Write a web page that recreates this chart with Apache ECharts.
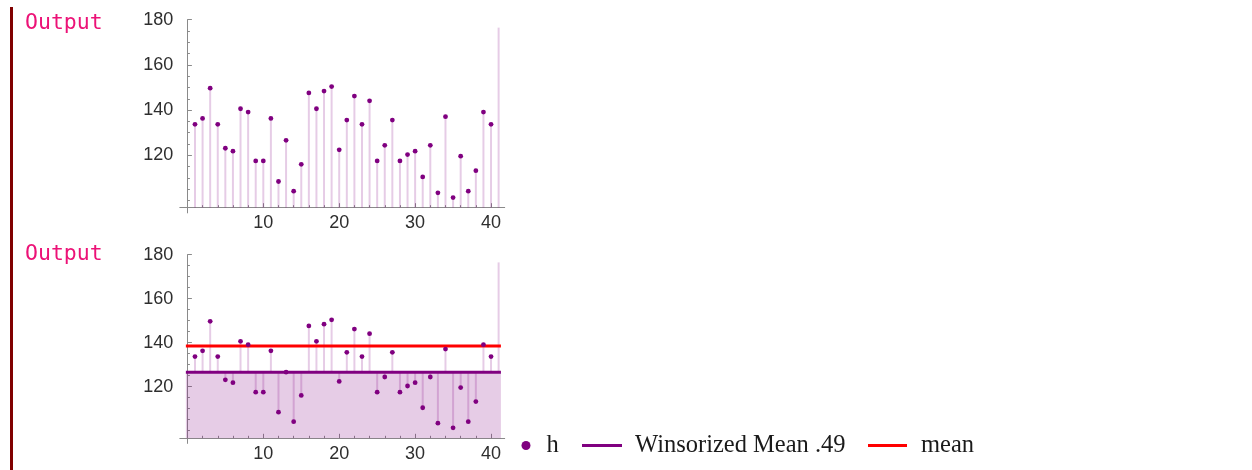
<!DOCTYPE html>
<html>
<head>
<meta charset="utf-8">
<script src="https://cdn.jsdelivr.net/npm/echarts@6/dist/echarts.min.js"></script>
<style>
html,body{margin:0;padding:0;background:#ffffff;}
#chart{width:1252px;height:470px;}
</style>
</head>
<body>
<div id="chart"></div>
<script>
// ---------------- data ----------------
const xs = [1,2,3,4,5,6,7,8,9,10,11,12,13,14,15,16,17,18,19,20,21,22,23,24,25,26,27,28,29,30,31,32,33,34,35,36,37,38,39,40,41];
const h = [133.7,136.3,149.7,133.7,123.1,121.8,140.6,139.1,117.5,117.5,
           136.3,108.4,126.6,104.1,116.0,147.6,140.6,148.4,150.4,122.4,
           135.6,146.2,133.7,144.1,117.5,124.4,135.6,117.5,120.3,121.8,
           110.4,124.4,103.4,137.1,101.3,119.6,104.1,113.2,139.1,133.7,
           580];
const winsorizedMean = 126.6;
const meanValue = 138.5;
const refLineX = [-0.2, 41.3];
const yLabelTicks = [120,140,160,180];
const yMinorTicks = [100,105,110,115,125,130,135,145,150,155,165,170,175];
const xLabelTicks = [10,20,30,40];
const xMinorTicks = [2,4,6,8,12,14,16,18,22,24,26,28,32,34,36,38];
const outputLabel = 'Output';
const seriesNames = ['h','Winsorized Mean .49','mean'];

// ---------------- styling / layout ----------------
const purple = '#800080';
const stemColor = 'rgba(128,0,128,0.2)';
const fillColor = 'rgba(128,0,128,0.2)';
const axisColor = '#8a8a8a';
const labelColor = '#2e2e2e';
const tickFont = {fontFamily:'Liberation Sans', fontSize:18, color:labelColor};
const xMin = -1, xMax = 41.8, yMax = 180, clipTop = 176.5;

const plots = [
  {grid:{left:179.8, top:19.7, width:324.9, height:193.2}, yMin:94.5, base:96.8, xOffset:-5.2},
  {grid:{left:179.8, top:254.7, width:324.9, height:188.7}, yMin:94.2, base:96.5, xOffset:-5.1}
];

function makeXAxes(gi, p) {
  const common = {gridIndex:gi, type:'value', min:xMin, max:xMax, position:'bottom', offset:p.xOffset, splitLine:{show:false}};
  return [
    Object.assign({}, common, {
      axisLine:{onZero:false, lineStyle:{color:axisColor, width:1}},
      axisTick:{inside:true, length:4.5, customValues:xLabelTicks, lineStyle:{color:axisColor}},
      axisLabel:Object.assign({customValues:xLabelTicks, margin:6.5}, tickFont)
    }),
    Object.assign({}, common, {
      axisLine:{show:false, onZero:false},
      axisTick:{inside:true, length:2.5, customValues:xMinorTicks, lineStyle:{color:axisColor}},
      axisLabel:{show:false}
    })
  ];
}
function makeYAxes(gi, p) {
  const common = {gridIndex:gi, type:'value', min:p.yMin, max:yMax, position:'left', splitLine:{show:false}};
  return [
    Object.assign({}, common, {
      axisLine:{onZero:true, lineStyle:{color:axisColor, width:1}},
      axisTick:{inside:true, length:4.5, customValues:yLabelTicks, lineStyle:{color:axisColor}},
      axisLabel:Object.assign({customValues:yLabelTicks, margin:6.5}, tickFont)
    }),
    Object.assign({}, common, {
      axisLine:{show:false, onZero:true},
      axisTick:{inside:true, length:2.5, customValues:yMinorTicks, lineStyle:{color:axisColor}},
      axisLabel:{show:false}
    })
  ];
}

const points = xs.map((x,i)=>[x, h[i]]);

function stemSeries(gi, base) {
  return {
    type:'custom', name:'stems'+gi, xAxisIndex:gi*2, yAxisIndex:gi*2,
    data:points, encode:{x:0, y:1}, silent:true,
    renderItem:function(params, api){
      const x = api.value(0);
      const v = Math.min(api.value(1), clipTop);
      const p0 = api.coord([x, base]);
      const p1 = api.coord([x, v]);
      return {type:'line', shape:{x1:p0[0], y1:p0[1], x2:p1[0], y2:p1[1]},
              style:{stroke:stemColor, lineWidth:2}};
    }
  };
}
function dotSeries(gi) {
  return {type:'scatter', name:seriesNames[0], xAxisIndex:gi*2, yAxisIndex:gi*2,
          data:points, symbol:'circle', symbolSize:4.8, clip:true,
          itemStyle:{color:purple, opacity:1}, z:5};
}

const series = [
  stemSeries(0, plots[0].base),
  dotSeries(0),
  {
    type:'line', name:seriesNames[1], xAxisIndex:2, yAxisIndex:2,
    data:refLineX.map(x=>[x, winsorizedMean]), showSymbol:false, symbol:'none',
    color:purple, itemStyle:{color:purple},
    lineStyle:{color:purple, width:3},
    areaStyle:{color:fillColor, opacity:1, origin:plots[1].base}, z:2
  },
  stemSeries(1, winsorizedMean),
  {
    type:'line', name:seriesNames[2], xAxisIndex:2, yAxisIndex:2,
    data:refLineX.map(x=>[x, meanValue]), showSymbol:false, symbol:'none',
    color:'#ff0000', itemStyle:{color:'#ff0000'},
    lineStyle:{color:'#ff0000', width:3}, z:3
  },
  dotSeries(1)
];

const legendText = {fontFamily:'Liberation Serif', fontSize:24.5, color:'#1a1a1a', lineHeight:27};
const option = {
  animation:false,
  backgroundColor:'#ffffff',
  grid:plots.map(p=>p.grid),
  xAxis:makeXAxes(0, plots[0]).concat(makeXAxes(1, plots[1])),
  yAxis:makeYAxes(0, plots[0]).concat(makeYAxes(1, plots[1])),
  legend:[
    {data:[{name:seriesNames[0], icon:'circle', itemStyle:{color:purple, opacity:1}}], left:521.5, top:432, padding:0, itemWidth:9, itemHeight:9,
     selectedMode:false, textStyle:Object.assign({padding:[0,0,0,11]}, legendText)},
    {data:[{name:seriesNames[1], icon:'rect'}], left:582, top:432, padding:0, itemWidth:40, itemHeight:3,
     selectedMode:false, textStyle:Object.assign({padding:[0,0,0,8]}, legendText)},
    {data:[{name:seriesNames[2], icon:'rect'}], left:868, top:432, padding:0, itemWidth:39, itemHeight:3,
     selectedMode:false, textStyle:Object.assign({padding:[0,0,0,9]}, legendText)}
  ],
  graphic:[
    {type:'rect', shape:{x:10, y:7, width:3, height:470}, style:{fill:'#800000'}, silent:true},
    {type:'text', x:25, y:23, style:{text:outputLabel, font:'21.5px "DejaVu Sans Mono"', fill:'#ec1277', verticalAlign:'middle'}},
    {type:'text', x:25, y:254.5, style:{text:outputLabel, font:'21.5px "DejaVu Sans Mono"', fill:'#ec1277', verticalAlign:'middle'}}
  ],
  series:series
};

const chart = echarts.init(document.getElementById('chart'), null, {renderer:'canvas'});
chart.setOption(option);
</script>
</body>
</html>
